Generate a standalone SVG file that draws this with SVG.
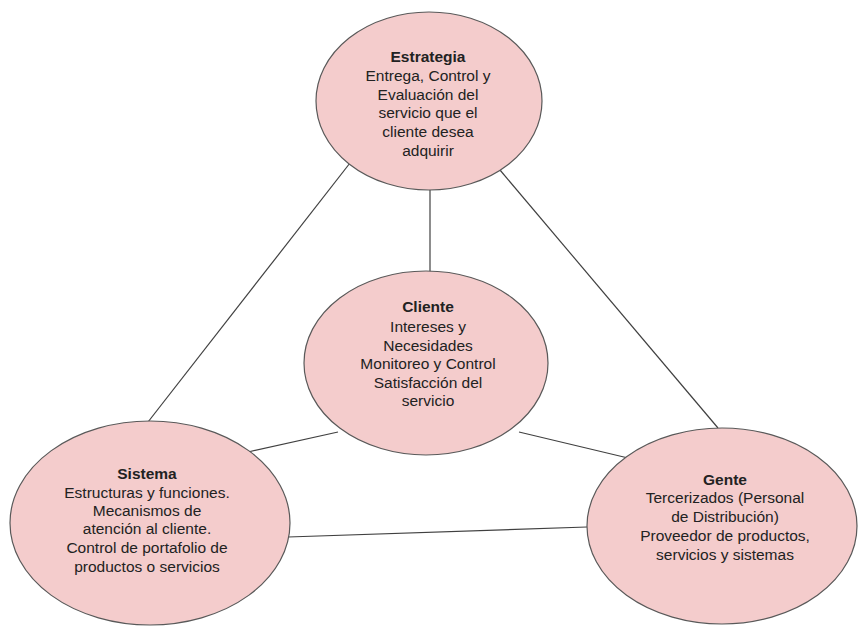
<svg xmlns="http://www.w3.org/2000/svg" width="860" height="626" viewBox="0 0 860 626">
<style>
.node ellipse{fill:#f4cccc;stroke:#595959;stroke-width:1.2}
.conn line{stroke:#404040;stroke-width:1.2}
text{font-family:"Liberation Sans",Arial,sans-serif;font-size:15.5px;fill:#222222;text-anchor:middle}
.t{font-weight:bold}
</style>
<rect width="860" height="626" fill="#ffffff"/>
<g id="connectors" class="conn">
<line x1="350" y1="163" x2="148" y2="422"/>
<line x1="430" y1="190" x2="430" y2="272"/>
<line x1="500" y1="170" x2="718" y2="428"/>
<line x1="338" y1="432" x2="248" y2="452"/>
<line x1="519" y1="432" x2="628" y2="458"/>
<line x1="288" y1="537" x2="587" y2="527"/>
</g>
<g id="estrategia" class="node">
<ellipse cx="429" cy="101" rx="113" ry="89"/>
<text x="428" y="62" class="t">Estrategia</text>
<text x="428" y="81">Entrega, Control y</text>
<text x="428" y="100">Evaluación del</text>
<text x="428" y="118">servicio que el</text>
<text x="428" y="137">cliente desea</text>
<text x="428" y="156">adquirir</text>
</g>
<g id="cliente" class="node">
<ellipse cx="426" cy="363" rx="122" ry="92"/>
<text x="428" y="312" class="t">Cliente</text>
<text x="428" y="332">Intereses y</text>
<text x="428" y="351">Necesidades</text>
<text x="428" y="369">Monitoreo y Control</text>
<text x="428" y="388">Satisfacción del</text>
<text x="428" y="406">servicio</text>
</g>
<g id="sistema" class="node">
<ellipse cx="150" cy="523" rx="140" ry="102"/>
<text x="147" y="479" class="t">Sistema</text>
<text x="147" y="498">Estructuras y funciones.</text>
<text x="147" y="516">Mecanismos de</text>
<text x="147" y="534">atención al cliente.</text>
<text x="147" y="553">Control de portafolio de</text>
<text x="147" y="572">productos o servicios</text>
</g>
<g id="gente" class="node">
<ellipse cx="722" cy="526" rx="135" ry="98"/>
<text x="725" y="485" class="t">Gente</text>
<text x="725" y="503">Tercerizados (Personal</text>
<text x="725" y="522">de Distribución)</text>
<text x="725" y="541">Proveedor de productos,</text>
<text x="725" y="560">servicios y sistemas</text>
</g>
</svg>
